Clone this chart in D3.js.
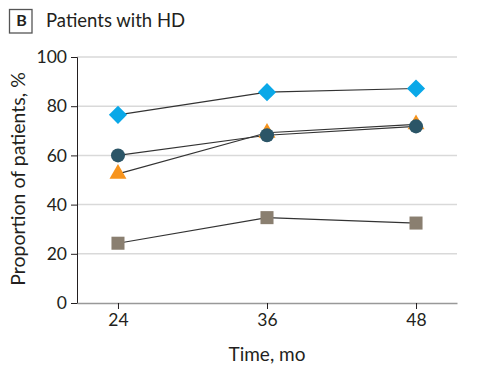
<!DOCTYPE html>
<html><head><meta charset="utf-8">
<script src="https://cdn.jsdelivr.net/npm/d3@7"></script>
<style>body{margin:0;background:#fff;} text{font-family:Lato,"Open Sans",sans-serif;fill:#231f20;}</style>
</head><body><svg id="c" width="489" height="382"></svg>
<script>
const months = [24, 36, 48];
const yTicks = [0, 20, 40, 60, 80, 100];
const diamondVals = [76.5, 85.7, 87.2];
const triangleVals = [52.5, 69.2, 72.6];
const circleVals = [60.0, 68.2, 71.8];
const squareVals = [24.3, 34.7, 32.5];
const seriesNames = ["diamond", "triangle", "circle", "square"];
const seriesColors = ["#0aa8e8", "#f7941d", "#2b5567", "#8a7f70"];

const svg = d3.select("#c");
const x = d3.scaleLinear().domain([20.7, 51.3]).range([77, 457]);
const y = d3.scaleLinear().domain([0, 100]).range([303, 57]);

// title
svg.append("rect").attr("x", 9.5).attr("y", 9.5).attr("width", 22.5).attr("height", 23.5)
  .attr("fill", "none").attr("stroke", "#555").attr("stroke-width", 1.3);
svg.append("text").attr("x", 21.5).attr("y", 26.3).attr("text-anchor", "middle")
  .attr("font-size", 16).attr("font-weight", "bold").text("B");
svg.append("text").attr("x", 46).attr("y", 27).attr("font-size", 18.5).text("Patients with HD");

// grid
svg.append("g").selectAll("line").data(yTicks.filter(d => d > 0)).join("line")
  .attr("x1", 77).attr("x2", 457).attr("y1", d => y(d)).attr("y2", d => y(d))
  .attr("stroke", "#d9d9d9").attr("stroke-width", 1.5);

// y axis
const ya = svg.append("g").attr("transform", "translate(77,0)")
  .call(d3.axisLeft(y).tickValues(yTicks).tickSize(6).tickPadding(4));
ya.select(".domain").attr("stroke", "#231f20");
ya.selectAll(".tick line").attr("stroke", "#231f20");
ya.selectAll("text").attr("font-size", 17.5).attr("font-family", "Lato").attr("fill", "#231f20");

// x axis
const xa = svg.append("g").attr("transform", "translate(0,303)")
  .call(d3.axisBottom(x).tickValues(months).tickSize(6).tickPadding(5).tickSizeOuter(0));
xa.select(".domain").attr("stroke", "#999").attr("stroke-width", 1.5);
xa.selectAll(".tick line").attr("stroke", "#231f20");
xa.selectAll("text").attr("font-size", 17.5).attr("font-family", "Lato").attr("fill", "#231f20");

svg.append("text").attr("x", 267).attr("y", 361).attr("text-anchor", "middle")
  .attr("font-size", 19).text("Time, mo");
svg.append("text").attr("transform", "translate(25,179) rotate(-90)").attr("text-anchor", "middle")
  .attr("font-size", 19.5).text("Proportion of patients, %");

const allVals = [diamondVals, triangleVals, circleVals, squareVals];
const line = d3.line().x((d, i) => x(months[i])).y(d => y(d));
svg.append("g").selectAll("path").data(allVals).join("path")
  .attr("d", line).attr("fill", "none").attr("stroke", "#333").attr("stroke-width", 1.2);

const shapes = {
  diamond: d3.symbol().type(d3.symbolDiamond2).size(210),
  triangle: d3.symbol().type(d3.symbolTriangle).size(125),
  circle: d3.symbol().type(d3.symbolCircle).size(155),
  square: d3.symbol().type(d3.symbolSquare).size(170)
};
allVals.forEach((vals, si) => {
  svg.append("g").selectAll("path").data(vals).join("path")
    .attr("transform", (d, i) => `translate(${x(months[i])},${y(d)})`)
    .attr("d", shapes[seriesNames[si]]())
    .attr("fill", seriesColors[si]);
});
</script></body></html>
